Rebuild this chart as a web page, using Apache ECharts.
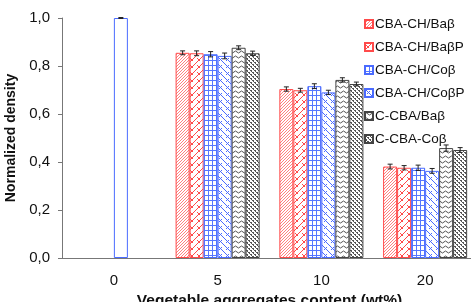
<!DOCTYPE html>
<html><head><meta charset="utf-8">
<script src="https://cdn.jsdelivr.net/npm/echarts@6/dist/echarts.min.js"></script>
<style>html,body{margin:0;padding:0;background:#fff}#c{width:471px;height:302px}</style>
</head><body><div id="c"></div>
<script>
var categories = ['0', '5', '10', '20'];
var seriesNames = ['CBA-CH/Baβ', 'CBA-CH/BaβP', 'CBA-CH/Coβ', 'CBA-CH/CoβP', 'C-CBA/Baβ', 'C-CBA-Coβ'];
var valsBa = [null, 0.855, 0.704, 0.381];
var valsBaP = [null, 0.853, 0.699, 0.376];
var valsCo = [null, 0.849, 0.716, 0.376];
var valsCoP = [1.0, 0.842, 0.690, 0.363];
var valsCBaBa = [null, 0.876, 0.742, 0.458];
var valsCCo = [null, 0.853, 0.725, 0.450];
var errBa = [0, 0.008, 0.009, 0.010];
var errBaP = [0, 0.010, 0.008, 0.009];
var errCo = [0, 0.011, 0.010, 0.011];
var errCoP = [0.002, 0.012, 0.009, 0.010];
var errCBaBa = [0, 0.008, 0.009, 0.013];
var errCCo = [0, 0.009, 0.008, 0.010];

var allVals = [valsBa, valsBaP, valsCo, valsCoP, valsCBaBa, valsCCo];
var allErrs = [errBa, errBaP, errCo, errCoP, errCBaBa, errCCo];
var borders = ['#ff4a4a', '#ff4a4a', '#4a6bff', '#4a6bff', '#444444', '#444444'];

function mk(w, h, draw) {
  var c = document.createElement('canvas'); c.width = w; c.height = h;
  var g = c.getContext('2d'); g.fillStyle = '#fff'; g.fillRect(0, 0, w, h);
  draw(g); return c;
}
var patterns = [
  mk(3, 3, function (g) { g.fillStyle = '#ff8080'; g.fillRect(2, 0, 1, 1); g.fillRect(1, 1, 1, 1); g.fillRect(0, 2, 1, 1); }),
  mk(7, 7, function (g) { g.strokeStyle = '#ff4a4a'; g.lineWidth = 1; g.beginPath(); g.moveTo(0, 7); g.lineTo(7, 0); g.stroke(); g.beginPath(); g.moveTo(1, 2); g.lineTo(4, 5); g.stroke(); }),
  mk(4, 5, function (g) { g.fillStyle = '#5577ff'; g.fillRect(0, 0, 4, 1); g.fillRect(0, 0, 1, 5); }),
  mk(7, 7, function (g) { g.strokeStyle = '#4a6bff'; g.lineWidth = 1; g.beginPath(); g.moveTo(0, 0); g.lineTo(7, 7); g.stroke(); g.beginPath(); g.moveTo(2, 5); g.lineTo(5, 2); g.stroke(); }),
  mk(6, 5, function (g) { g.strokeStyle = '#555'; g.lineWidth = 1; g.beginPath(); g.moveTo(0, 2); g.lineTo(1.5, 1); g.lineTo(3, 2); g.lineTo(4.5, 3); g.lineTo(6, 2); g.stroke(); }),
  mk(4, 4, function (g) { g.fillStyle = '#555'; g.fillRect(0, 0, 2, 1); g.fillRect(2, 2, 2, 1); g.fillRect(1, 1, 1, 1); g.fillRect(3, 3, 1, 1); })
];

var GAP = 0.19;
var series = [];
seriesNames.forEach(function (name, i) {
  series.push({
    name: name, type: 'bar', barGap: '0%', barCategoryGap: (GAP * 100) + '%',
    itemStyle: { color: { image: patterns[i], repeat: 'repeat' }, borderColor: borders[i], borderWidth: 1 },
    data: allVals[i].map(function (v, k) {
      if (v === null) return '-';
      if (i === 3 && k === 0) return { value: v, itemStyle: { color: '#fff', borderColor: '#4a6bff' } };
      return v;
    })
  });
});
seriesNames.forEach(function (name, i) {
  var d = [];
  allVals[i].forEach(function (v, k) { if (v !== null) d.push([k, v, allErrs[i][k]]); });
  series.push({
    type: 'custom', name: 'err' + i, z: 5, silent: true,
    renderItem: function (params, api) {
      var cat = api.value(0), v = api.value(1), e = api.value(2);
      var band = api.size([1, 0])[0];
      var bw = band * (1 - GAP) / 6;
      var c = api.coord([cat, v]);
      var x = c[0] - band * (1 - GAP) / 2 + (i + 0.5) * bw;
      var yt = api.coord([cat, v + e])[1], yb = api.coord([cat, v - e])[1];
      var st = { stroke: '#222', lineWidth: 1 };
      return { type: 'group', children: [
        { type: 'line', shape: { x1: x, y1: yt, x2: x, y2: yb }, style: st },
        { type: 'line', shape: { x1: x - 2.5, y1: yt, x2: x + 2.5, y2: yt }, style: st },
        { type: 'line', shape: { x1: x - 2.5, y1: yb, x2: x + 2.5, y2: yb }, style: st }
      ] };
    },
    data: d
  });
});

var chart = echarts.init(document.getElementById('c'), null, { renderer: 'canvas' });
chart.setOption({
  animation: false,
  textStyle: { fontFamily: 'Liberation Sans' },
  grid: { left: 62, top: 18, width: 415, bottom: 44, outerBoundsMode: 'none', containLabel: false },
  legend: {
    data: seriesNames, orient: 'vertical', left: 359, top: 12,
    itemWidth: 8, itemHeight: 8, itemGap: 9, icon: 'rect',
    textStyle: { fontSize: 13.5, color: '#111', fontFamily: 'Liberation Sans', padding: [0, 0, 0, -3] },
    backgroundColor: 'rgba(255,255,255,0)'
  },
  xAxis: {
    type: 'category', data: categories,
    name: 'Vegetable aggregates content (wt%)', nameLocation: 'middle', nameGap: 33,
    nameTextStyle: { fontSize: 15.5, fontWeight: 'bold', color: '#111' },
    axisLine: { lineStyle: { color: '#777' } },
    axisTick: { length: 4, lineStyle: { color: '#777' } },
    axisLabel: { fontSize: 15, color: '#111', margin: 15 }
  },
  yAxis: {
    type: 'value', min: 0, max: 1, interval: 0.2,
    name: 'Normalized density', nameLocation: 'middle', nameGap: 41,
    nameTextStyle: { fontSize: 14, fontWeight: 'bold', color: '#111' },
    axisLine: { show: true, lineStyle: { color: '#777' } },
    axisTick: { show: true, length: 4, lineStyle: { color: '#777' } },
    splitLine: { show: false },
    axisLabel: { fontSize: 15, color: '#111', margin: 12, formatter: function (v) { return v.toFixed(1).replace('.', ','); } }
  },
  series: series
});
</script></body></html>
